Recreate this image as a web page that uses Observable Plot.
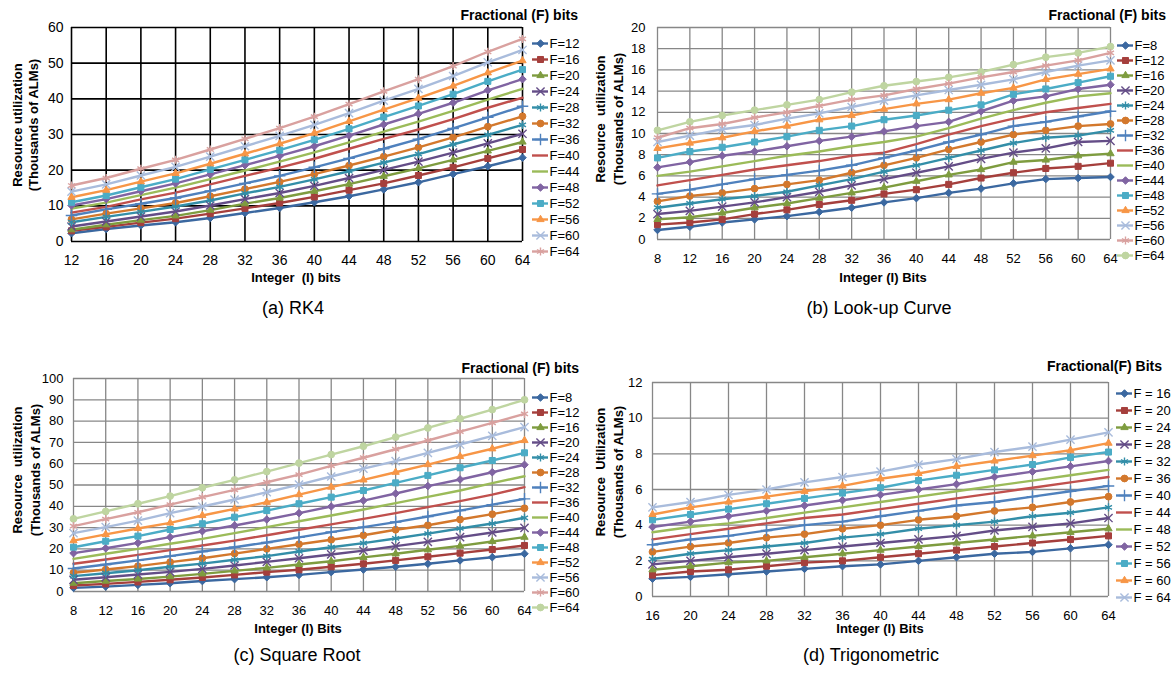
<!DOCTYPE html>
<html><head><meta charset="utf-8">
<script src="https://cdn.jsdelivr.net/npm/d3@7"></script>
<script src="https://cdn.jsdelivr.net/npm/@observablehq/plot@0.6"></script>
<style>
body{margin:0;background:#fff;}
#root{position:relative;width:1172px;height:675px;overflow:hidden;font-family:"Liberation Sans",Arial,sans-serif;color:#000;}
.abs{position:absolute;white-space:pre;color:#000;line-height:1;}
.b{font-weight:bold;}
</style></head><body><div id="root"></div>
<script>
// ---------- data ----------
const seriesColors = ["#3b68a0","#a53f3c","#7e9c3f","#644d87","#338ea8","#d3782c","#4f81bd","#c0504d","#9bbb59","#8064a2","#4bacc6","#f79646","#a9bcdc","#d9a19f","#bfd5a1"];
const seriesSymbols = ["diamond2","square","triangle","times","asterisk","circle","plus",null,null,"diamond2","square","triangle","times","asterisk","circle"];

// (a) RK4
const rk4X = [12,16,20,24,28,32,36,40,44,48,52,56,60,64];
const rk4Labels = ["F=12","F=16","F=20","F=24","F=28","F=32","F=36","F=40","F=44","F=48","F=52","F=56","F=60","F=64"];
const rk4Values = [
  [2.3,3.5,4.5,5.4,6.6,8.0,9.4,11.0,12.7,14.6,16.6,18.9,21.1,23.5],
  [3.0,4.1,5.3,6.4,7.8,9.3,10.8,12.5,14.4,16.3,18.5,20.8,23.3,25.8],
  [3.3,4.7,6.0,7.2,8.8,10.6,12.2,14.1,16.1,18.3,20.5,22.9,25.4,27.9],
  [4.2,5.6,7.0,8.4,10.1,11.9,13.6,15.6,17.8,20.1,22.4,24.9,27.5,30.2],
  [5.4,6.9,8.3,9.8,11.5,13.5,15.3,17.4,19.7,22.1,24.5,27.2,29.9,32.7],
  [6.2,7.8,9.3,10.8,12.7,14.7,16.7,18.9,21.3,23.8,26.4,29.2,32.2,35.1],
  [7.3,9.0,10.6,12.2,14.2,16.3,18.4,20.8,23.3,26.0,28.7,31.7,34.8,37.9],
  [8.1,9.7,11.8,13.7,16.0,18.4,20.7,23.2,26.0,28.8,31.4,34.3,37.5,40.3],
  [9.2,10.9,13.0,15.1,17.5,19.9,22.4,25.0,27.8,30.8,33.6,36.6,39.8,42.8],
  [10.1,11.9,14.1,16.3,18.8,21.4,24.0,26.7,29.7,32.8,35.8,38.9,42.4,45.5],
  [11.0,12.9,15.2,17.5,20.2,22.9,25.6,28.5,31.6,34.9,38.0,41.3,44.9,48.2],
  [12.4,14.4,16.8,19.1,21.8,24.6,27.4,30.4,33.7,37.0,40.2,43.6,47.3,50.7],
  [14.0,16.0,18.5,20.9,23.8,26.7,29.6,32.7,36.0,39.5,42.8,46.4,50.2,53.7],
  [15.7,17.8,20.4,22.9,25.8,28.8,31.8,35.0,38.5,42.1,45.5,49.2,53.2,56.8]
];
const rk4YTicks = [0,10,20,30,40,50,60];

// (b) Look-up Curve
const lutX = [8,12,16,20,24,28,32,36,40,44,48,52,56,60,64];
const lutLabels = ["F=8","F=12","F=16","F=20","F=24","F=28","F=32","F=36","F=40","F=44","F=48","F=52","F=56","F=60","F=64"];
const lutValues = [
  [0.9,1.2,1.6,1.9,2.2,2.6,3.0,3.5,3.9,4.4,4.8,5.3,5.7,5.8,5.9],
  [1.4,1.6,1.9,2.4,2.8,3.3,3.7,4.3,4.7,5.2,5.8,6.3,6.7,6.9,7.2],
  [1.9,2.1,2.5,3.0,3.4,3.9,4.4,4.9,5.5,6.1,6.6,7.3,7.5,7.9,8.1],
  [2.4,2.7,3.1,3.5,4.0,4.5,5.1,5.7,6.3,6.9,7.6,8.2,8.6,9.2,9.3],
  [3.0,3.4,3.8,4.1,4.5,5.1,5.7,6.4,7.0,7.7,8.4,9.1,9.6,9.8,10.3],
  [3.6,4.1,4.4,4.8,5.2,5.6,6.3,7.0,7.7,8.5,9.2,9.9,10.3,10.7,10.9],
  [4.3,4.7,5.2,5.7,6.1,6.5,7.0,7.7,8.4,9.2,9.9,10.7,11.1,11.6,12.1],
  [5.1,5.6,6.1,6.6,7.0,7.4,7.9,8.2,9.0,9.9,10.7,11.4,12.0,12.4,12.8],
  [6.0,6.4,6.9,7.4,7.9,8.3,8.8,9.2,9.7,10.5,11.4,12.2,12.9,13.5,13.8],
  [6.8,7.3,7.9,8.3,8.8,9.3,9.7,10.2,10.7,11.1,12.1,13.1,13.5,14.2,14.6],
  [7.7,8.3,8.7,9.2,9.7,10.3,10.7,11.3,11.7,12.2,12.7,13.7,14.2,14.8,15.4],
  [8.6,9.1,9.6,10.2,10.7,11.3,11.7,12.3,12.8,13.2,13.8,14.3,15.1,15.6,16.1],
  [9.2,9.8,10.4,10.8,11.4,11.9,12.5,13.1,13.6,14.1,14.6,15.1,15.8,16.4,16.9],
  [9.6,10.5,10.9,11.5,12.0,12.6,13.2,13.6,14.2,14.7,15.3,15.8,16.4,16.9,17.6],
  [10.3,11.1,11.7,12.2,12.7,13.2,13.9,14.5,14.9,15.3,15.8,16.5,17.2,17.6,18.2]
];
const lutYTicks = [0,2,4,6,8,10,12,14,16,18,20];

// (c) Square Root
const sqrtX = [8,12,16,20,24,28,32,36,40,44,48,52,56,60,64];
const sqrtLabels = ["F=8","F=12","F=16","F=20","F=24","F=28","F=32","F=36","F=40","F=44","F=48","F=52","F=56","F=60","F=64"];
const sqrtValues = [
  [1.7,2.3,3.1,3.9,4.9,5.8,6.7,7.8,9.1,10.3,11.6,13.0,14.6,16.1,17.7],
  [2.8,3.6,4.5,5.5,6.6,7.8,9.1,10.2,11.6,13.0,14.6,16.3,18.0,19.7,21.6],
  [3.9,4.9,5.9,7.0,8.3,9.7,11.1,12.7,14.2,16.0,17.7,19.6,21.4,23.5,25.5],
  [5.5,6.7,8.0,9.2,10.6,12.2,13.9,15.6,17.4,19.2,21.3,23.3,25.5,27.7,29.9],
  [7.2,8.6,10.0,11.6,13.1,14.9,16.6,18.8,20.8,22.7,24.9,27.2,29.6,31.9,34.6],
  [8.8,10.3,11.9,13.8,15.6,17.8,20.0,22.2,24.3,26.4,29.0,31.1,33.8,36.3,39.1],
  [10.8,12.7,14.6,16.6,18.8,20.8,23.0,25.4,27.9,30.2,32.6,35.2,38.0,40.8,43.5],
  [13.0,15.0,17.2,19.4,21.6,23.9,26.4,29.0,31.5,34.1,36.8,39.6,42.4,45.5,49.0],
  [15.3,17.7,20.0,22.4,24.7,27.4,30.2,33.0,35.7,38.5,41.5,44.4,47.4,50.9,54.1],
  [18.0,20.3,22.8,25.5,28.3,31.0,33.8,36.8,39.9,42.7,46.0,49.5,52.6,56.0,59.5],
  [20.8,23.6,26.0,29.1,31.8,34.9,38.0,41.2,44.3,47.4,51.0,54.5,58.1,61.5,65.1],
  [23.9,26.8,29.6,32.2,35.7,38.8,41.9,45.5,49.0,52.4,56.0,59.6,63.4,67.0,70.9],
  [27.4,30.2,33.3,36.8,39.9,43.2,46.6,50.2,54.0,57.7,61.2,65.1,69.0,73.1,77.2],
  [30.7,34.0,37.2,40.8,44.3,47.7,51.3,54.9,59.0,62.8,66.8,70.9,75.1,79.2,83.4],
  [34.1,37.6,41.2,44.8,48.7,52.4,56.3,60.3,64.3,68.2,72.5,76.8,81.1,85.4,90.0]
];
const sqrtYTicks = [0,10,20,30,40,50,60,70,80,90,100];

// (d) Trigonometric
const trigX = [16,20,24,28,32,36,40,44,48,52,56,60,64];
const trigLabels = ["F = 16","F = 20","F = 24","F = 28","F = 32","F = 36","F = 40","F = 44","F = 48","F = 52","F = 56","F = 60","F = 64"];
const trigValues = [
  [1.0,1.1,1.25,1.4,1.55,1.7,1.8,2.0,2.2,2.4,2.5,2.7,2.9],
  [1.2,1.4,1.5,1.7,1.9,2.0,2.2,2.4,2.6,2.8,3.0,3.2,3.4],
  [1.5,1.7,1.9,2.0,2.2,2.4,2.6,2.8,3.0,3.2,3.4,3.6,3.8],
  [1.8,2.0,2.2,2.4,2.6,2.8,3.0,3.2,3.4,3.7,3.9,4.1,4.4],
  [2.1,2.4,2.6,2.8,3.0,3.3,3.5,3.8,4.0,4.2,4.5,4.7,5.0],
  [2.5,2.8,3.0,3.3,3.5,3.8,4.0,4.3,4.5,4.8,5.0,5.3,5.6],
  [2.9,3.2,3.4,3.7,4.0,4.2,4.5,4.8,5.1,5.3,5.6,5.9,6.2],
  [3.2,3.5,3.8,4.1,4.4,4.6,4.9,5.2,5.5,5.8,6.1,6.4,6.7],
  [3.6,3.9,4.1,4.4,4.7,5.0,5.3,5.6,5.9,6.2,6.5,6.8,7.1],
  [3.9,4.2,4.5,4.8,5.1,5.4,5.7,6.0,6.3,6.7,7.0,7.3,7.6],
  [4.3,4.6,4.9,5.2,5.5,5.8,6.1,6.5,6.8,7.1,7.4,7.8,8.1],
  [4.6,5.0,5.3,5.6,5.9,6.2,6.6,6.9,7.3,7.6,7.9,8.2,8.6],
  [5.0,5.3,5.7,6.0,6.4,6.7,7.0,7.4,7.7,8.1,8.4,8.8,9.2]
];
const trigYTicks = [0,2,4,6,8,10,12];

// ---------- drawing ----------
const root = document.getElementById("root");
const FONT = '"Liberation Sans", Arial, sans-serif';
const solidSyms = new Set(["diamond2","square","circle"]);
const triSyms = new Set(["triangle"]);
const strokeSyms = new Set(["times","asterisk","plus"]);

function place(el, left, top) {
  el.style.position = "absolute";
  el.style.left = left + "px";
  el.style.top = top + "px";
  el.style.maxWidth = "none";
  root.appendChild(el);
}

function text(str, x, y, size, opts = {}) {
  const d = document.createElement("div");
  d.className = "abs" + (opts.bold ? " b" : "");
  d.textContent = str;
  d.style.fontSize = size + "px";
  d.style.left = x + "px";
  d.style.top = y + "px";
  let tf = opts.anchor === "end" ? "translate(-100%,-50%)" : opts.anchor === "start" ? "translate(0,-50%)" : "translate(-50%,-50%)";
  if (opts.rotate) tf += " rotate(-90deg)";
  d.style.transform = tf;
  root.appendChild(d);
}

// three dot marks so each marker family gets an Excel-like size
function markerMarks(data, xAcc, yAcc, symAcc, idxAcc) {
  const f = set => data.filter(d => set.has(seriesSymbols[idxAcc(d)]));
  const base = {x: xAcc, y: yAcc, symbol: symAcc, fill: symAcc, stroke: symAcc};
  return [
    Plot.dot(f(solidSyms), {...base, r: 3.4, strokeWidth: 1}),
    Plot.dot(f(triSyms), {...base, r: 2.7, strokeWidth: 1}),
    Plot.dot(f(strokeSyms), {...base, r: 3.8, strokeWidth: 1.4})
  ];
}

function panel(cfg) {
  const {left, top, width, height, px0, px1, pyTop, pyBot, xs, labels, values, yTicks, grid, gridW, tickFont, yPad, xPad} = cfg;
  const n = labels.length;
  const rows = [];
  values.forEach((vals, i) => vals.forEach((v, j) => rows.push({F: labels[i], i, x: xs[j], y: v})));
  const marked = labels.filter((_, i) => seriesSymbols[i]);
  const markedSyms = seriesSymbols.slice(0, n).filter(s => s);
  const el = Plot.plot({
    width, height,
    marginLeft: px0 - left, marginRight: left + width - px1,
    marginTop: pyTop - top, marginBottom: top + height - pyBot,
    style: {fontFamily: FONT, fontSize: tickFont + "px", background: "transparent", color: "#000", overflow: "visible"},
    x: {domain: [xs[0], xs[xs.length - 1]]},
    y: {domain: [yTicks[0], yTicks[yTicks.length - 1]]},
    color: {domain: labels, range: seriesColors.slice(0, n)},
    symbol: {domain: marked, range: markedSyms},
    marks: [
      Plot.gridX(xs, {stroke: grid, strokeOpacity: 1, strokeWidth: gridW}),
      Plot.gridY(yTicks, {stroke: grid, strokeOpacity: 1, strokeWidth: gridW}),
      Plot.axisX(xs, {tickSize: 0, tickPadding: xPad, label: null, fontSize: tickFont}),
      Plot.axisY(yTicks, {tickSize: 0, tickPadding: yPad, label: null, fontSize: tickFont}),
      Plot.line(rows, {x: "x", y: "y", z: "F", stroke: "F", strokeWidth: 2.4}),
      ...markerMarks(rows, "x", "y", "F", d => d.i)
    ]
  });
  place(el, left, top);
}

function legend(cfg) {
  const {lineX, yFirst, yLast, labels, font} = cfg;
  const n = labels.length;
  const pad = 10;
  const H = yLast - yFirst + 2 * pad;
  const marked = labels.filter((_, i) => seriesSymbols[i]);
  const markedSyms = seriesSymbols.slice(0, n).filter(s => s);
  const el = Plot.plot({
    width: 70, height: H, margin: 0,
    style: {fontFamily: FONT, fontSize: font + "px", background: "transparent", color: "#000", overflow: "visible"},
    x: {domain: [0, 70], range: [0, 70], axis: null},
    y: {type: "point", domain: labels, range: [pad, H - pad], axis: null},
    color: {domain: labels, range: seriesColors.slice(0, n)},
    symbol: {domain: marked, range: markedSyms},
    marks: [
      Plot.ruleY(labels, {y: d => d, x1: 0, x2: 16, stroke: d => d, strokeWidth: 2.4}),
      ...markerMarks(labels, () => 8, d => d, d => d, d => labels.indexOf(d)),
      Plot.text(labels, {x: 17, y: d => d, text: d => d, textAnchor: "start", fontSize: font, fill: "#000"})
    ]
  });
  place(el, lineX, yFirst - pad);
}

// (a)
panel({left: 0, top: 0, width: 586, height: 300, px0: 71, px1: 522, pyTop: 27, pyBot: 241,
  xs: rk4X, labels: rk4Labels, values: rk4Values, yTicks: rk4YTicks, grid: "#000", gridW: 1.6, tickFont: 14, yPad: 8, xPad: 14});
// (b)
panel({left: 586, top: 0, width: 586, height: 300, px0: 657, px1: 1110, pyTop: 27, pyBot: 239,
  xs: lutX, labels: lutLabels, values: lutValues, yTicks: lutYTicks, grid: "#878787", gridW: 1.3, tickFont: 13, yPad: 12, xPad: 14});
// (c)
panel({left: 0, top: 340, width: 586, height: 300, px0: 73, px1: 524, pyTop: 378, pyBot: 591,
  xs: sqrtX, labels: sqrtLabels, values: sqrtValues, yTicks: sqrtYTicks, grid: "#878787", gridW: 1.3, tickFont: 13, yPad: 10, xPad: 14});
// (d)
panel({left: 586, top: 340, width: 586, height: 300, px0: 652, px1: 1108, pyTop: 382, pyBot: 596,
  xs: trigX, labels: trigLabels, values: trigValues, yTicks: trigYTicks, grid: "#878787", gridW: 1.3, tickFont: 13, yPad: 10, xPad: 14});

legend({lineX: 532, yFirst: 34, yLast: 260, labels: rk4Labels, font: 13});
legend({lineX: 1117, yFirst: 34, yLast: 266, labels: lutLabels, font: 13});
legend({lineX: 532, yFirst: 387, yLast: 616, labels: sqrtLabels, font: 13});
legend({lineX: 1116, yFirst: 382, yLast: 607, labels: trigLabels, font: 13});

// legend titles
text("Fractional (F) bits", 578, 15, 14, {bold: true, anchor: "end"});
text("Fractional (F) bits", 1166, 15, 14, {bold: true, anchor: "end"});
text("Fractional (F) bits", 579, 368, 14, {bold: true, anchor: "end"});
text("Fractional(F) Bits", 1162, 366, 14, {bold: true, anchor: "end"});

// axis titles
text("Integer  (I) bits", 296, 277, 13, {bold: true});
text("Integer (I) Bits", 883, 277, 13, {bold: true});
text("Integer (I) Bits", 298, 628, 13, {bold: true});
text("Integer (I) Bits", 880, 628, 13, {bold: true});

text("Resource utilization", 17, 125, 13, {bold: true, rotate: true});
text("(Thousands of ALMs)", 33, 125, 13, {bold: true, rotate: true});
text("Resource  utilization", 600, 119, 13, {bold: true, rotate: true});
text("(Thousands of ALMs)", 618, 119, 13, {bold: true, rotate: true});
text("Resource  utilization", 17, 470, 13, {bold: true, rotate: true});
text("(Thousands of ALMs)", 35, 470, 13, {bold: true, rotate: true});
text("Resource  Utilization", 600, 472, 13, {bold: true, rotate: true});
text("(Thousands of ALMs)", 618, 472, 13, {bold: true, rotate: true});

// captions
text("(a) RK4", 293, 308, 18);
text("(b) Look-up Curve", 879, 308, 18);
text("(c) Square Root", 297, 655, 18);
text("(d) Trigonometric", 871, 655, 18);
</script></body></html>
